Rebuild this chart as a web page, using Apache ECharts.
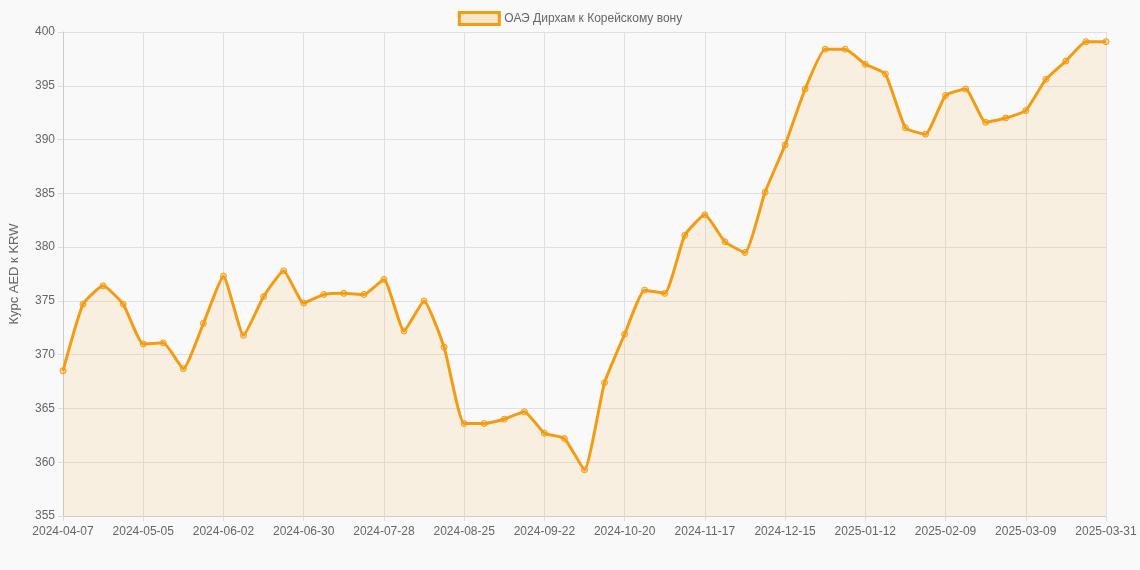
<!DOCTYPE html>
<html><head><meta charset="utf-8">
<script src="https://cdn.jsdelivr.net/npm/echarts@6/dist/echarts.min.js"></script>
<style>html,body{margin:0;background:#f9f9f9}#c{width:1140px;height:570px}</style>
</head><body><div id="c"></div>
<script>
const categories = ["2024-04-07","2024-04-14","2024-04-21","2024-04-28","2024-05-05","2024-05-12","2024-05-19","2024-05-26","2024-06-02","2024-06-09","2024-06-16","2024-06-23","2024-06-30","2024-07-07","2024-07-14","2024-07-21","2024-07-28","2024-08-04","2024-08-11","2024-08-18","2024-08-25","2024-09-01","2024-09-08","2024-09-15","2024-09-22","2024-09-29","2024-10-06","2024-10-13","2024-10-20","2024-10-27","2024-11-03","2024-11-10","2024-11-17","2024-11-24","2024-12-01","2024-12-08","2024-12-15","2024-12-22","2024-12-29","2025-01-05","2025-01-12","2025-01-19","2025-01-26","2025-02-02","2025-02-09","2025-02-16","2025-02-23","2025-03-02","2025-03-09","2025-03-16","2025-03-23","2025-03-30","2025-03-31"];
const values = [368.5,374.7,376.4,374.7,371.0,371.1,368.7,372.9,377.3,371.8,375.4,377.8,374.8,375.6,375.7,375.6,377.0,372.2,375.0,370.7,363.6,363.6,364.0,364.7,362.7,362.2,359.3,367.4,371.9,376.0,375.7,381.1,383.0,380.5,379.5,385.1,389.5,394.7,398.4,398.4,397.0,396.1,391.1,390.5,394.1,394.7,391.6,392.0,392.7,395.6,397.3,399.1,399.1];
const seriesName = "ОАЭ Дирхам к Корейскому вону";
const chart = echarts.init(document.getElementById('c'));
chart.setOption({
  backgroundColor:'#f9f9f9',
  textStyle:{fontFamily:'Liberation Sans, Arial, sans-serif'},
  legend:{top:6,left:'center',itemWidth:40,itemHeight:12,icon:'rect',
    textStyle:{color:'#666',fontSize:12},
    data:[{name:seriesName,itemStyle:{color:'rgba(243,156,18,0.2)',borderColor:'#F39C12',borderWidth:3}}]},
  grid:{left:58,right:34,top:32,bottom:54},
  xAxis:{type:'category',data:categories,boundaryGap:false,
    axisLine:{lineStyle:{color:'#ccc'}},axisTick:{show:true,interval:3,lineStyle:{color:'#ddd'}},
    axisLabel:{interval:3,color:'#666',fontSize:12,margin:10,showMaxLabel:true},
    splitLine:{show:true,interval:3,lineStyle:{color:'#e0e0e0'}}},
  yAxis:{type:'value',min:355,max:400,interval:5,
    name:'Курс AED к KRW',nameLocation:'middle',nameGap:42,nameTextStyle:{color:'#666',fontSize:13},
    axisLine:{show:true,lineStyle:{color:'#ccc'}},axisTick:{show:true,lineStyle:{color:'#ddd'}},
    axisLabel:{color:'#666',fontSize:12},
    splitLine:{lineStyle:{color:'#e0e0e0'}}},
  series:[{name:seriesName,type:'line',data:values,smooth:0.15,
    symbol:'circle',symbolSize:6,
    itemStyle:{color:'rgba(243,156,18,0.3)',borderColor:'#F39C12',borderWidth:1},
    lineStyle:{color:'#F39C12',width:3},
    areaStyle:{color:'rgba(243,156,18,0.15)'}}]
});
</script></body></html>
